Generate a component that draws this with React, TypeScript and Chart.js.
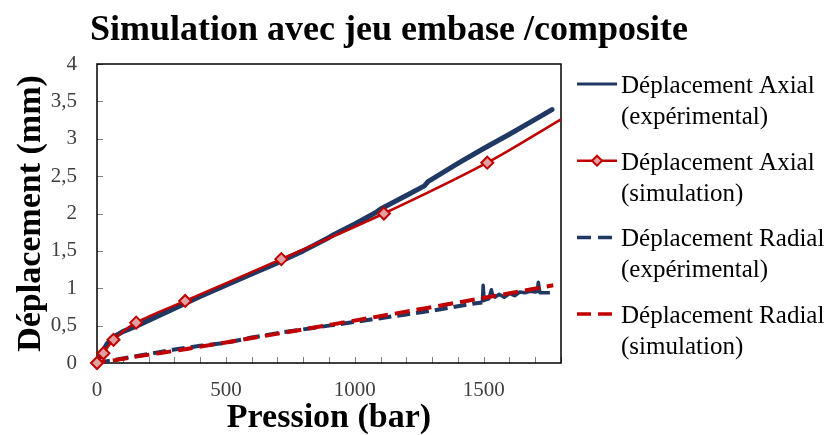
import React, { useEffect, useRef } from 'react';
import { Chart, registerables } from 'chart.js';

Chart.register(...registerables);

const FONT = "'Liberation Serif', 'Times New Roman', serif";
const BLUE = '#1F3864';
const RED = '#C00000';
const PINK = '#E3A0A0';
const TICK_TEXT = '#404040';

const chartTitle = 'Simulation avec jeu embase /composite';
const xTitle = 'Pression (bar)';
const yTitle = 'Déplacement (mm)';

// Axial displacement, experimental
const axialExpPressure = [0, 10, 25, 40, 60, 80, 100, 150, 200, 250, 300, 350, 400, 500, 600, 700, 800, 900, 920, 1000, 1080, 1100, 1200, 1270, 1285, 1300, 1400, 1500, 1600, 1700, 1765];
const axialExpDisp = [0, 0.07, 0.17, 0.26, 0.33, 0.38, 0.42, 0.49, 0.57, 0.65, 0.73, 0.81, 0.89, 1.04, 1.19, 1.34, 1.5, 1.68, 1.72, 1.86, 2.01, 2.06, 2.24, 2.37, 2.43, 2.46, 2.67, 2.87, 3.06, 3.26, 3.39];

// Axial displacement, simulation
const axialSimPressure = [0, 25, 64, 152, 342, 715, 1113, 1514, 1800];
const axialSimDisp = [0, 0.13, 0.31, 0.54, 0.83, 1.39, 2.0, 2.68, 3.26];

// Radial displacement, experimental
const radialExpPressure = [0, 50, 100, 200, 300, 400, 500, 600, 700, 800, 900, 1000, 1100, 1200, 1300, 1400, 1470, 1495, 1498, 1502, 1520, 1530, 1535, 1545, 1560, 1580, 1600, 1620, 1640, 1660, 1680, 1700, 1708, 1712, 1718, 1740, 1757];
const radialExpDisp = [0, 0.03, 0.06, 0.12, 0.18, 0.23, 0.27, 0.34, 0.4, 0.45, 0.5, 0.55, 0.6, 0.65, 0.7, 0.76, 0.8, 0.81, 1.04, 0.84, 0.86, 0.98, 0.9, 0.88, 0.92, 0.88, 0.93, 0.9, 0.95, 0.94, 0.96, 0.95, 0.96, 1.08, 0.94, 0.94, 0.94];
const radialNoiseStart = 1490;

// Radial displacement, simulation
const radialSimPressure = [0, 25, 64, 152, 342, 715, 1113, 1514, 1770];
const radialSimDisp = [0, 0.015, 0.035, 0.085, 0.185, 0.4, 0.635, 0.88, 1.04];

const xMin = 0;
const xMax = 1800;
const xTickStep = 100;
const xLabelStep = 500;
const yMin = 0;
const yMax = 4;
const yTickStep = 0.5;

const legendLabels = [
  ['Déplacement Axial', '(expérimental)'],
  ['Déplacement Axial', '(simulation)'],
  ['Déplacement Radial', '(expérimental)'],
  ['Déplacement Radial', '(simulation)'],
];

const toPoints = (xs: number[], ys: number[]) => xs.map((x, i) => ({ x, y: ys[i] }));

function drawDiamond(ctx: CanvasRenderingContext2D, x: number, y: number, r: number) {
  ctx.beginPath();
  ctx.moveTo(x, y - r);
  ctx.lineTo(x + r, y);
  ctx.lineTo(x, y + r);
  ctx.lineTo(x - r, y);
  ctx.closePath();
  ctx.fillStyle = PINK;
  ctx.fill();
  ctx.lineWidth = 2;
  ctx.strokeStyle = RED;
  ctx.stroke();
}

const framePlugin = {
  id: 'frame',
  beforeDatasetsDraw(chart: any) {
    const { ctx, chartArea } = chart;
    const xs = chart.scales.x;
    const ys = chart.scales.y;
    ctx.save();
    ctx.strokeStyle = '#808080';
    ctx.lineWidth = 1;
    xs.ticks.forEach((t: any) => {
      const px = Math.round(xs.getPixelForValue(t.value)) + 0.5;
      ctx.beginPath();
      ctx.moveTo(px, chartArea.bottom);
      ctx.lineTo(px, chartArea.bottom - 6);
      ctx.stroke();
    });
    ys.ticks.forEach((t: any) => {
      const py = Math.round(ys.getPixelForValue(t.value)) + 0.5;
      ctx.beginPath();
      ctx.moveTo(chartArea.left, py);
      ctx.lineTo(chartArea.left + 6, py);
      ctx.stroke();
    });
    ctx.strokeStyle = '#000000';
    ctx.lineWidth = 1.5;
    ctx.strokeRect(chartArea.left, chartArea.top, chartArea.right - chartArea.left, chartArea.bottom - chartArea.top);
    ctx.restore();
  },
  afterDraw(chart: any) {
    const { ctx } = chart;
    ctx.save();
    // Title
    ctx.fillStyle = '#000000';
    ctx.font = `bold 36px ${FONT}`;
    ctx.textAlign = 'center';
    ctx.textBaseline = 'alphabetic';
    ctx.fillText(chartTitle, 389, 40);

    // Legend
    ctx.font = `25px ${FONT}`;
    ctx.textAlign = 'left';
    const x0 = 577;
    const x1 = 617;
    legendLabels.forEach((lines, i) => {
      const base = 93 + 76.7 * i;
      const ly = base - 9;
      ctx.save();
      if (i === 0) {
        ctx.strokeStyle = BLUE;
        ctx.lineWidth = 3;
      } else if (i === 1) {
        ctx.strokeStyle = RED;
        ctx.lineWidth = 2.5;
      } else if (i === 2) {
        ctx.strokeStyle = BLUE;
        ctx.lineWidth = 3.5;
        ctx.setLineDash([14, 7]);
      } else {
        ctx.strokeStyle = RED;
        ctx.lineWidth = 3.5;
        ctx.setLineDash([14, 7]);
      }
      ctx.beginPath();
      ctx.moveTo(x0, ly);
      ctx.lineTo(x1, ly);
      ctx.stroke();
      ctx.restore();
      if (i === 1) drawDiamond(ctx, (x0 + x1) / 2, ly, 5);
      ctx.fillStyle = '#000000';
      ctx.fillText(lines[0], 621, base);
      ctx.fillText(lines[1], 621, base + 31);
    });
    ctx.restore();
  },
};

export default function App() {
  const canvasRef = useRef<HTMLCanvasElement | null>(null);

  useEffect(() => {
    document.body.style.margin = '0';
    const canvas = canvasRef.current;
    if (!canvas) return;
    const lastSim = axialSimPressure.length - 1;
    const chart = new Chart(canvas, {
      type: 'line',
      data: {
        datasets: [
          {
            label: 'Déplacement Axial (expérimental)',
            data: toPoints(axialExpPressure, axialExpDisp),
            borderColor: BLUE,
            backgroundColor: BLUE,
            borderWidth: 5,
            borderJoinStyle: 'round',
            borderCapStyle: 'round',
            pointRadius: 0,
            tension: 0,
            order: 3,
            clip: false,
          },
          {
            label: 'Déplacement Axial (simulation)',
            data: toPoints(axialSimPressure, axialSimDisp),
            borderColor: RED,
            backgroundColor: PINK,
            borderWidth: 2.5,
            pointStyle: 'rectRot',
            pointRadius: (c: any) => (c.dataIndex === lastSim ? 0 : 6),
            pointBorderWidth: 2,
            pointBorderColor: RED,
            pointBackgroundColor: PINK,
            tension: 0.3,
            order: 1,
            clip: false,
          },
          {
            label: 'Déplacement Radial (expérimental)',
            data: toPoints(radialExpPressure, radialExpDisp),
            borderColor: BLUE,
            backgroundColor: BLUE,
            borderWidth: 4,
            borderDash: [13, 6],
            borderJoinStyle: 'round',
            segment: {
              borderDash: (s: any) => (s.p0.parsed.x >= radialNoiseStart ? [] : undefined),
              borderWidth: (s: any) => (s.p0.parsed.x >= radialNoiseStart ? 3.5 : undefined),
            },
            pointRadius: 0,
            tension: 0,
            order: 4,
            clip: false,
          },
          {
            label: 'Déplacement Radial (simulation)',
            data: toPoints(radialSimPressure, radialSimDisp),
            borderColor: RED,
            backgroundColor: RED,
            borderWidth: 4,
            borderDash: [15, 7],
            borderDashOffset: 6,
            pointRadius: 0,
            tension: 0.3,
            order: 2,
            clip: false,
          },
        ],
      },
      options: {
        animation: false,
        responsive: true,
        maintainAspectRatio: false,
        layout: { padding: { left: 0, top: 64, right: 271, bottom: 0 } },
        plugins: {
          legend: { display: false },
          title: { display: false },
          tooltip: { enabled: false },
        },
        scales: {
          x: {
            type: 'linear',
            min: xMin,
            max: xMax,
            grid: { display: false, drawTicks: false },
            border: { display: false },
            ticks: {
              stepSize: xTickStep,
              autoSkip: false,
              maxRotation: 0,
              padding: 15,
              color: TICK_TEXT,
              font: { family: FONT, size: 21 },
              callback: (v: any) => (Number(v) % xLabelStep === 0 ? String(v) : ''),
            },
            title: {
              display: true,
              text: xTitle,
              color: '#000000',
              font: { family: FONT, size: 34, weight: 'bold', lineHeight: 1 },
              padding: { top: 0, bottom: 0 },
            },
            afterFit: (s: any) => {
              s.height = 72;
            },
          },
          y: {
            type: 'linear',
            min: yMin,
            max: yMax,
            grid: { display: false, drawTicks: false },
            border: { display: false },
            ticks: {
              stepSize: yTickStep,
              padding: 20,
              color: TICK_TEXT,
              font: { family: FONT, size: 21 },
              callback: (v: any) => String(v).replace('.', ','),
            },
            title: {
              display: true,
              text: yTitle,
              color: '#000000',
              font: { family: FONT, size: 34, weight: 'bold', lineHeight: 1 },
              padding: { top: 14, bottom: 0 },
            },
            afterFit: (s: any) => {
              s.width = 97;
            },
          },
        },
      },
      plugins: [framePlugin],
    });
    return () => chart.destroy();
  }, []);

  return (
    <div style={{ position: 'fixed', left: 0, top: 0, width: 832, height: 435, background: '#ffffff' }}>
      <canvas ref={canvasRef} />
    </div>
  );
}
